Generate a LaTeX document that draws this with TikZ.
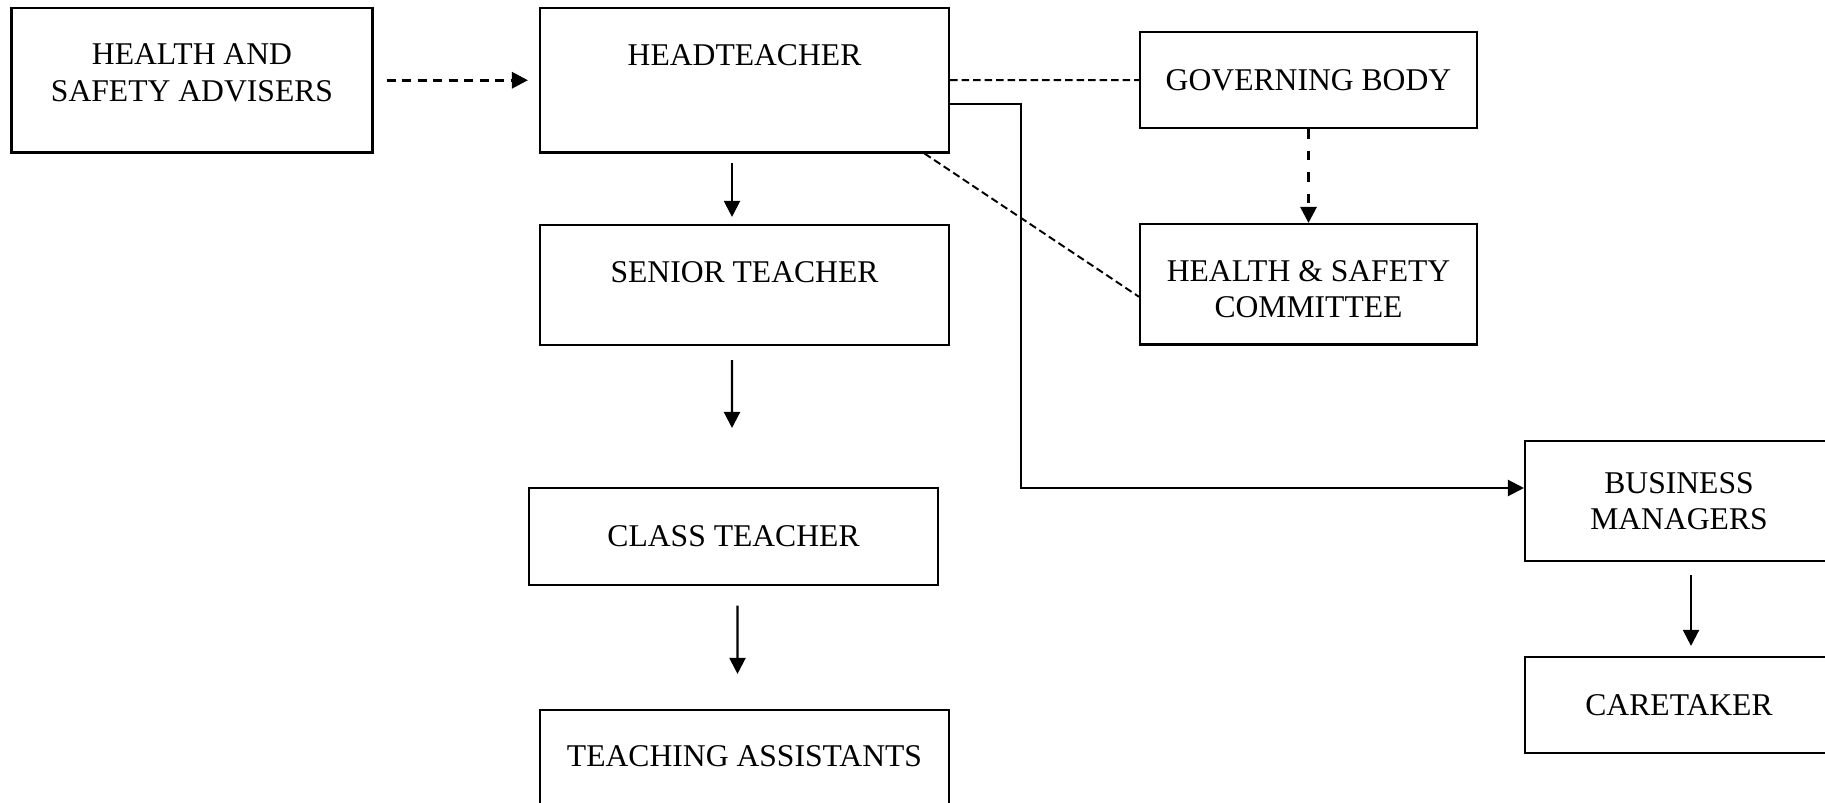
\documentclass[tikz,border=0pt]{standalone}
\usepackage{fontspec}
\setmainfont{Liberation Serif}
\usetikzlibrary{arrows.meta}

\begin{document}
\begin{tikzpicture}[
  box/.style={draw, rectangle, line width=0.6pt, align=center, inner sep=0pt,
    font=\fontsize{9}{10.4}\selectfont},
  textup/.style={text depth=#1},
  tip/.style={-{Triangle[width=0.16cm,length=0.16cm]}},
  link/.style={line width=0.6pt},
  dashlink/.style={line width=0.55pt, dash pattern=on 0.075cm off 0.04cm},
  dasharrow/.style={line width=0.85pt, dash pattern=on 0.09cm off 0.065cm}]
  \useasboundingbox (0,0) rectangle (18.25,-8.03);
  \node[box, textup=0.15cm, minimum width=3.61cm, minimum height=1.445cm] (adv) at (1.92,-0.8025) {HEALTH AND\\SAFETY ADVISERS};
  \node[box, textup=0.5cm, minimum width=4.09cm, minimum height=1.445cm] (head) at (7.445,-0.8025) {HEADTEACHER};
  \node[box, minimum width=3.37cm, minimum height=0.96cm] (gov) at (13.085,-0.80) {GOVERNING BODY};
  \node[box, text height=0.67cm, minimum width=3.37cm, minimum height=1.205cm] (com) at (13.085,-2.8425) {HEALTH \& SAFETY\\COMMITTEE};
  \node[box, textup=0.26cm, minimum width=4.09cm, minimum height=1.2cm] (senior) at (7.445,-2.85) {SENIOR TEACHER};
  \node[box, minimum width=4.09cm, minimum height=0.97cm] (class) at (7.335,-5.365) {CLASS TEACHER};
  \node[box, textup=0.38cm, minimum width=4.09cm, minimum height=1.3cm] (ta) at (7.445,-7.75) {TEACHING ASSISTANTS};
  \node[box, minimum width=3.08cm, minimum height=1.2cm] (bus) at (16.79,-5.01) {BUSINESS\\MANAGERS};
  \node[box, minimum width=3.08cm, minimum height=0.96cm] (care) at (16.79,-7.05) {CARETAKER};
  \coordinate (senend) at (7.32,-4.28);
  % Draw the reporting lines
  \draw[dasharrow, tip, shorten <=0.13cm, shorten >=0.11cm] (adv) -- (head);
  \draw[link, tip, shorten <=0.09cm, shorten >=0.07cm] ([xshift=-0.125cm]head.south) -- ([xshift=-0.125cm]senior.north);
  \draw[link, tip, shorten <=0.14cm] ([xshift=-0.125cm]senior.south) -- (senend);
  \draw[link, tip, shorten <=0.195cm, shorten >=0.35cm] ([xshift=0.04cm]class.south) -- ([xshift=-0.07cm]ta.north);
  \draw[link, tip, shorten <=0.13cm, shorten >=0.1cm] ([xshift=0.12cm]bus.south) -- ([xshift=0.12cm]care.north);
  \draw[link, tip] ([yshift=-0.235cm]head.east) -- ++(0.71,0) |- ([yshift=0.13cm]bus.west);
  % Draw the advisory lines
  \draw[dashlink] (head) -- (gov);
  \draw[dasharrow, dash pattern=on 0.095cm off 0.12cm, tip] (gov) -- (com);
  \draw[dashlink] ([xshift=1.8cm]head.south) -- ([yshift=-0.125cm]com.west);
\end{tikzpicture}
\end{document}
